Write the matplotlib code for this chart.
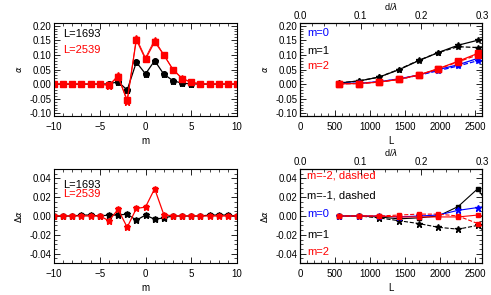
import numpy as np
import matplotlib
matplotlib.use("Agg")
import matplotlib.pyplot as plt
from matplotlib.ticker import MultipleLocator, FormatStrFormatter

plt.rcParams['font.family'] = ['Liberation Sans', 'DejaVu Sans']
plt.rcParams['font.size'] = 7

# ---- data ----
m = np.arange(-10, 11)
alpha_1693 = [0, 0, 0, 0, 0, 0, 0.001, 0.008, -0.02, 0.075, 0.035, 0.08, 0.034, 0.012, 0.003, 0.001, 0, 0, 0, 0, 0]
alpha_2539 = [0, 0, 0, 0, 0, 0, -0.003, 0.025, -0.055, 0.152, 0.085, 0.145, 0.1, 0.05, 0.019, 0.006, 0.001, 0, 0, 0, 0]
alpha_2539_b = [0, 0, 0, 0, 0, 0, -0.005, 0.03, -0.06, 0.158, 0.09, 0.152, 0.1, 0.05, 0.02, 0.006, 0.001, 0, 0, 0, 0]

dalpha_1693 = [0, 0, 0, 0.001, 0.001, 0, 0.001, 0.001, 0.002, -0.0045, 0.001, -0.0035, -0.002, 0, 0, 0, 0, 0.001, 0.001, 0.001, 0]
dalpha_2539 = [0, 0, 0, 0, 0, 0, -0.005, 0.007, -0.012, 0.008, 0.0095, 0.029, 0.0015, 0, 0, 0, 0, 0, 0, 0, 0]

L = [564, 847, 1129, 1411, 1693, 1976, 2258, 2539]
a_m1 = [0.004, 0.011, 0.024, 0.049, 0.08, 0.108, 0.133, 0.15]
a_mm1 = [0.004, 0.011, 0.024, 0.05, 0.081, 0.108, 0.128, 0.125]
a_m0 = [0.002, 0.003, 0.008, 0.018, 0.031, 0.05, 0.066, 0.088]
a_mm0 = [0.002, 0.003, 0.008, 0.017, 0.03, 0.046, 0.062, 0.08]
a_m2 = [0.001, 0.002, 0.007, 0.016, 0.031, 0.053, 0.078, 0.105]
a_mm2 = [0.001, 0.002, 0.007, 0.016, 0.031, 0.052, 0.076, 0.1]

L_ext = [564, 847, 1129, 1411, 1693, 1976, 2258, 2539, 2822]
d_m1 = [0, 0, -0.001, -0.003, -0.002, 0.0, 0.01, 0.029, -0.003]
d_mm1 = [0, 0, -0.002, -0.005, -0.008, -0.012, -0.014, -0.01, -0.03]
d_m0 = [0, 0, 0, -0.001, 0, 0.001, 0.006, 0.009, 0.012]
d_m2 = [0, 0, 0, -0.001, -0.001, -0.001, -0.001, 0.001, -0.003]
d_mm2 = [0, 0, 0, 0.001, 0.002, 0.002, 0.0, -0.008, -0.02]

RED = '#ff0000'
BLUE = '#0000ff'


def style(ax, xmaj, xmin, ymaj, ymin, yfmt):
    ax.xaxis.set_major_locator(MultipleLocator(xmaj))
    ax.xaxis.set_minor_locator(MultipleLocator(xmin))
    ax.yaxis.set_major_locator(MultipleLocator(ymaj))
    ax.yaxis.set_minor_locator(MultipleLocator(ymin))
    ax.yaxis.set_major_formatter(FormatStrFormatter(yfmt))
    ax.tick_params(which='both', direction='in', top=True, right=True, labelsize=7, pad=2)
    ax.tick_params(axis='x', which='both', pad=4)
    ax.tick_params(which='major', length=4, width=0.6)
    ax.tick_params(which='minor', length=2, width=0.5)
    for s in ax.spines.values():
        s.set_linewidth(0.8)


def top_axis(ax):
    t = ax.twiny()
    t.set_xlim(0, 0.3)
    t.xaxis.set_major_locator(MultipleLocator(0.1))
    t.xaxis.set_minor_locator(MultipleLocator(0.02))
    t.xaxis.set_major_formatter(FormatStrFormatter('%.1f'))
    t.tick_params(which='both', direction='in', labelsize=7, pad=1.5)
    t.tick_params(which='major', length=4, width=0.6)
    t.tick_params(which='minor', length=2, width=0.5)
    t.set_xlabel(r'd/$\lambda$', fontsize=6.5, labelpad=0.5)
    ax.tick_params(axis='x', which='both', top=False)


fig = plt.figure(figsize=(4.91, 2.95), dpi=100)
W, H = 491, 295


def add(l, r, t, b):
    return fig.add_axes([l / W, 1 - b / H, (r - l) / W, (b - t) / H])


ax1 = add(54, 237, 23, 116)
ax2 = add(300, 482, 23, 116)
ax3 = add(54, 237, 169, 263)
ax4 = add(300, 482, 169, 263)

kw = dict(lw=0.9, ms=4)

# top left
ax1.plot(m, alpha_1693, '-o', color='k', **kw)
ax1.plot(m, alpha_1693, '*', color='k', ms=4.5)
ax1.plot(m, alpha_2539, '-s', color=RED, **kw)
ax1.plot(m, alpha_2539_b, '-*', color=RED, lw=0.6, ms=4.5)
ax1.set_xlim(-10, 10)
ax1.set_ylim(-0.109, 0.209)
style(ax1, 5, 1, 0.05, 0.01, '%.2f')
ax1.set_xlabel('m', fontsize=7, labelpad=3)
ax1.set_ylabel(r'$\alpha$', fontsize=6, labelpad=4)
ax1.text(0.05, 0.88, 'L=1693', color='k', fontsize=8, transform=ax1.transAxes, va='center')
ax1.text(0.05, 0.71, 'L=2539', color=RED, fontsize=8, transform=ax1.transAxes, va='center')

# top right
ax2.plot(L, a_m1, '-*', color='k', **kw)
ax2.plot(L, a_mm1, '--*', color='k', **kw)
ax2.plot(L, a_m0, '-*', color=BLUE, **kw)
ax2.plot(L, a_mm0, '--*', color=BLUE, **kw)
ax2.plot(L, a_m2, '-s', color=RED, **kw)
ax2.plot(L, a_mm2, '--s', color=RED, **kw)
ax2.set_xlim(0, 2600)
ax2.set_ylim(-0.109, 0.209)
style(ax2, 500, 100, 0.05, 0.01, '%.2f')
ax2.set_xlabel('L', fontsize=7, labelpad=3)
ax2.set_ylabel(r'$\alpha$', fontsize=6, labelpad=4)
ax2.text(0.04, 0.895, 'm=0', color=BLUE, fontsize=8, transform=ax2.transAxes, va='center')
ax2.text(0.04, 0.70, 'm=1', color='k', fontsize=8, transform=ax2.transAxes, va='center')
ax2.text(0.04, 0.54, 'm=2', color=RED, fontsize=8, transform=ax2.transAxes, va='center')
top_axis(ax2)

# bottom left
ax3.plot(m, dalpha_1693, '-s', color='k', lw=0.9, ms=3.5)
ax3.plot(m, dalpha_1693, '*', color='k', ms=4.5)
ax3.plot(m, dalpha_2539, '-s', color=RED, lw=0.9, ms=3.5)
ax3.plot(m, dalpha_2539, '*', color=RED, ms=4.5)
ax3.set_xlim(-10, 10)
ax3.set_ylim(-0.05, 0.05)
style(ax3, 5, 1, 0.02, 0.005, '%.2f')
ax3.set_xlabel('m', fontsize=7, labelpad=3)
ax3.set_ylabel(r'$\Delta\alpha$', fontsize=6, labelpad=4)
ax3.text(0.05, 0.83, 'L=1693', color='k', fontsize=8, transform=ax3.transAxes, va='center')
ax3.text(0.05, 0.73, 'L=2539', color=RED, fontsize=8, transform=ax3.transAxes, va='center')

# bottom right
ax4.plot(L_ext, d_m1, '-s', color='k', lw=0.8, ms=3.5)
ax4.plot(L_ext, d_mm1, '--*', color='k', lw=0.8, ms=4.5)
ax4.plot(L_ext, d_m0, '-*', color=BLUE, lw=0.8, ms=4.5)
ax4.plot(L_ext, d_m2, '-s', color=RED, lw=0.8, ms=3.5)
ax4.plot(L_ext, d_mm2, '--s', color=RED, lw=0.8, ms=3.5)
ax4.set_xlim(0, 2600)
ax4.set_ylim(-0.05, 0.05)
style(ax4, 500, 100, 0.02, 0.005, '%.2f')
ax4.set_xlabel('L', fontsize=7, labelpad=3)
ax4.set_ylabel(r'$\Delta\alpha$', fontsize=6, labelpad=4)
ax4.text(0.04, 0.93, 'm=-2, dashed', color=RED, fontsize=8, transform=ax4.transAxes, va='center')
ax4.text(0.04, 0.72, 'm=-1, dashed', color='k', fontsize=8, transform=ax4.transAxes, va='center')
ax4.text(0.04, 0.52, 'm=0', color=BLUE, fontsize=8, transform=ax4.transAxes, va='center')
ax4.text(0.04, 0.30, 'm=1', color='k', fontsize=8, transform=ax4.transAxes, va='center')
ax4.text(0.04, 0.12, 'm=2', color=RED, fontsize=8, transform=ax4.transAxes, va='center')
top_axis(ax4)

fig.savefig('out.png', dpi=100)
